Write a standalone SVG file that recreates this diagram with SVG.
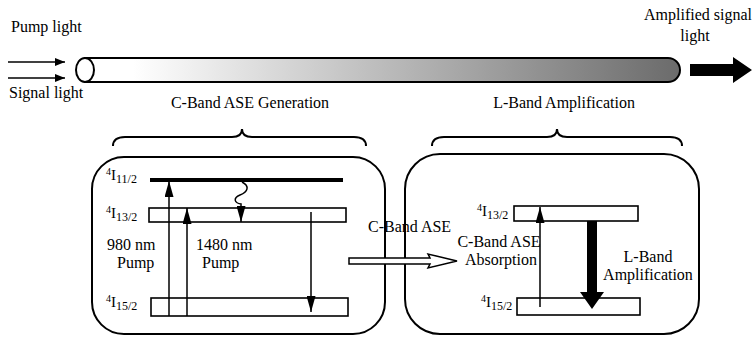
<svg xmlns="http://www.w3.org/2000/svg" width="753" height="337" viewBox="0 0 753 337">
<style>
text{font-family:"Liberation Serif","Times New Roman",serif;font-size:16px;fill:#000}
.ln{stroke:#000;stroke-width:1.5;fill:none}
.box{stroke:#000;stroke-width:2;fill:#fff}
.lvl{stroke:#000;stroke-width:1.6;fill:#fff}
.sup{font-size:10px}
.big{font-size:15px}
.sub{font-size:12px}
</style>
<defs>
<linearGradient id="fg" gradientUnits="userSpaceOnUse" x1="85" y1="0" x2="680" y2="0">
<stop offset="0" stop-color="#ffffff"/>
<stop offset="0.08" stop-color="#ffffff"/>
<stop offset="1" stop-color="#6b6b6b"/>
</linearGradient>
<marker id="ah" markerWidth="10" markerHeight="8" refX="10" refY="4" orient="auto" markerUnits="userSpaceOnUse">
<path d="M0,0 L10,4 L0,8 Z" fill="#000"/>
</marker>
<marker id="av" markerWidth="16" markerHeight="9" refX="16" refY="4.5" orient="auto" markerUnits="userSpaceOnUse" viewBox="0 0 16 9">
<path d="M0,0 L16,4.5 L0,9 Z" fill="#000"/>
</marker>
</defs>

<g id="fiber">
<path d="M85,58 H668 A12,12 0 0 1 668,82 H85 Z" fill="url(#fg)" stroke="#000" stroke-width="2"/>
<ellipse cx="85" cy="70" rx="9" ry="12" fill="#fff" stroke="#000" stroke-width="2"/>
</g>

<g id="input-labels">
<text x="11" y="32">Pump light</text>
<text x="9" y="98">Signal light</text>
</g>

<g id="output">
<text x="698" y="20" text-anchor="middle">Amplified signal</text>
<text x="695" y="41" text-anchor="middle">light</text>
<path d="M690,64 H733 V57 L752,70 L733,83 V76 H690 Z" fill="#000"/>
</g>

<g id="section-labels">
<text x="250" y="108" text-anchor="middle">C-Band ASE Generation</text>
<text x="564" y="108" text-anchor="middle">L-Band Amplification</text>
</g>

<g id="braces" class="ln">
<path d="M113,146 Q113,137 125,137 H232 Q242,137 242,129 Q242,137 252,137 H354 Q366,137 366,146" stroke-width="2"/>
<path d="M432,146 Q432,137 444,137 H547 Q557,137 557,129 Q557,137 567,137 H670 Q682,137 682,146" stroke-width="2"/>
</g>

<g id="left-box">
<rect x="92" y="157" width="293" height="177" rx="32" ry="32" class="box"/>
<line x1="150" y1="180" x2="343" y2="180" stroke="#000" stroke-width="4"/>
<rect x="149" y="208" width="197" height="14" class="lvl"/>
<rect x="151" y="298" width="197" height="18" class="lvl"/>
<text x="106" y="180"><tspan class="sup" dy="-5">4</tspan><tspan class="big" dy="5">I</tspan><tspan class="sub" dy="3">11/2</tspan></text>
<text x="106" y="218"><tspan class="sup" dy="-5">4</tspan><tspan class="big" dy="5">I</tspan><tspan class="sub" dy="3">13/2</tspan></text>
<text x="106" y="307"><tspan class="sup" dy="-5">4</tspan><tspan class="big" dy="5">I</tspan><tspan class="sub" dy="3">15/2</tspan></text>
<text x="107" y="250">980 nm</text>
<text x="117" y="268">Pump</text>
<text x="196" y="250">1480 nm</text>
<text x="202" y="268">Pump</text>
</g>

<g id="right-box">
<rect x="405" y="154" width="294" height="180" rx="35" ry="35" class="box"/>
<rect x="514" y="206" width="124" height="15" class="lvl"/>
<rect x="517" y="298" width="123" height="17" class="lvl"/>
<text x="477" y="216"><tspan class="sup" dy="-5">4</tspan><tspan class="big" dy="5">I</tspan><tspan class="sub" dy="3">13/2</tspan></text>
<text x="481" y="307"><tspan class="sup" dy="-5">4</tspan><tspan class="big" dy="5">I</tspan><tspan class="sub" dy="3">15/2</tspan></text>
<text x="499" y="247" text-anchor="middle">C-Band ASE</text>
<text x="501" y="265" text-anchor="middle">Absorption</text>
<text x="648" y="262" text-anchor="middle">L-Band</text>
<text x="648" y="280" text-anchor="middle">Amplification</text>
</g>

<g id="connectors">
<line x1="8" y1="62" x2="65" y2="62" class="ln" marker-end="url(#ah)"/>
<line x1="8" y1="78" x2="65" y2="78" class="ln" marker-end="url(#ah)"/>
<line x1="169" y1="316" x2="169" y2="181" class="ln" marker-end="url(#av)"/>
<line x1="187" y1="316" x2="187" y2="208" class="ln" marker-end="url(#av)"/>
<path d="M242,182 C250,186 248,192 240,195 C233,198 234,203 241,204 L241,222" class="ln" marker-end="url(#av)"/>
<line x1="311" y1="212" x2="311" y2="312" class="ln" marker-end="url(#av)"/>
<polygon points="349,258 430,258 428,254 457,261 428,268 430,264 349,264" fill="#fff" stroke="#000" stroke-width="1.5"/>
<text x="368" y="232">C-Band ASE</text>
<line x1="540" y1="307" x2="540" y2="207" class="ln" marker-end="url(#av)"/>
<path d="M587,221 H597 V292 H604 L592,309 L580,292 H587 Z" fill="#000"/>
</g>
</svg>
